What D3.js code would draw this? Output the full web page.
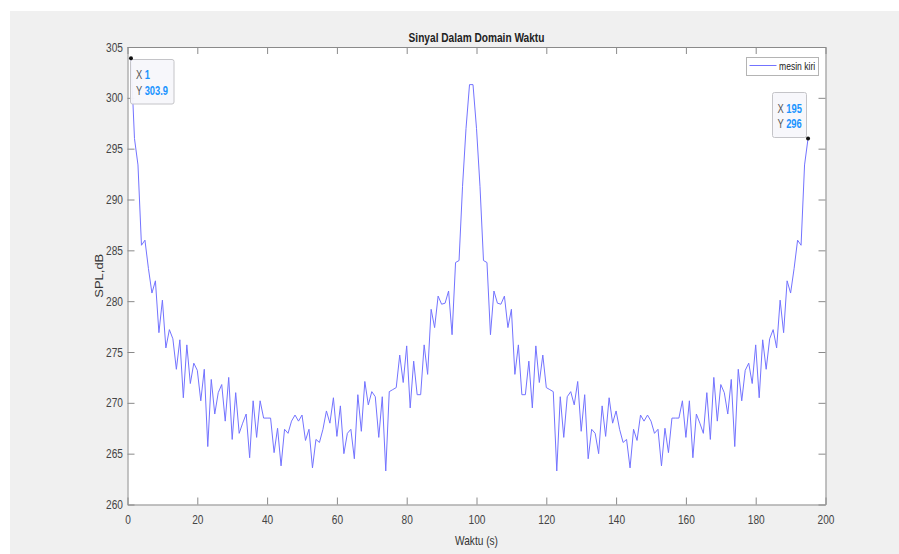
<!DOCTYPE html>
<html>
<head>
<meta charset="utf-8">
<script src="https://cdn.jsdelivr.net/npm/d3@7"></script>
<style>
  body { margin: 0; background: #fff; }
  svg { display: block; }
  text { font-family: "Liberation Sans", Arial, sans-serif; }
</style>
</head>
<body>
<svg id="chart" width="899" height="554"></svg>
<script>
// data
var chartTitle = 'Sinyal Dalam Domain Waktu';
var xLabel = 'Waktu (s)';
var yLabel = 'SPL,dB';
var seriesName = 'mesin kiri';

// sample index 1..195
var waktu = d3.range(1, 196);
var spl = [
  303.9, 296.0, 293.4, 285.5, 286.0, 283.2, 280.8, 282.0, 276.9, 280.1,
  275.4, 277.2, 276.3, 273.3, 276.2, 270.5, 275.7, 271.9, 273.9, 273.2,
  270.2, 273.3, 265.7, 272.3, 268.9, 271.0, 271.8, 268.2, 272.5, 266.4,
  271.0, 267.0, 268.0, 268.9, 264.6, 270.2, 266.6, 270.2, 268.5, 268.5,
  268.5, 265.1, 267.5, 263.8, 267.4, 267.0, 268.2, 268.8, 268.2, 268.8,
  266.3, 267.4, 263.6, 266.4, 266.1, 267.4, 269.2, 268.0, 270.5, 266.7,
  269.7, 265.0, 267.0, 267.4, 264.5, 270.8, 267.2, 272.1, 269.8, 271.1,
  270.6, 266.6, 270.6, 263.3, 271.1, 271.3, 271.5, 274.7, 272.0, 275.6,
  269.5, 274.1, 270.8, 270.8, 275.7, 272.8, 279.2, 277.4, 280.5, 279.7,
  279.8, 281.0, 276.7, 283.8, 284.0, 291.3, 297.0, 301.3,
  301.3, 297.0, 291.3, 284.0, 283.8, 276.7, 281.0, 279.8, 279.7, 280.5,
  277.4, 279.2, 272.8, 275.7, 270.8, 270.8, 274.1, 269.5, 275.6, 272.0,
  274.7, 271.5, 271.3, 271.1, 263.3, 270.6, 266.6, 270.6, 271.1, 269.8,
  272.1, 267.2, 270.8, 264.5, 267.4, 267.0, 265.0, 269.7, 266.7, 270.5,
  268.0, 269.2, 267.4, 266.1, 266.4, 263.6, 267.4, 266.3, 268.8, 268.2,
  268.8, 268.2, 267.0, 267.4, 263.8, 267.5, 265.1, 268.5, 268.5, 268.5,
  270.2, 266.6, 270.2, 264.6, 268.9, 268.0, 267.0, 271.0, 266.4, 272.5,
  268.2, 271.8, 271.0, 268.9, 272.3, 265.7, 273.3, 270.2, 273.2, 273.9,
  271.9, 275.7, 270.5, 276.2, 273.3, 276.3, 277.2, 275.4, 280.1, 276.9,
  282.0, 280.8, 283.2, 286.0, 285.5, 293.4, 296.0
];
var xTicks = [0, 20, 40, 60, 80, 100, 120, 140, 160, 180, 200];
var yTicks = [260, 265, 270, 275, 280, 285, 290, 295, 300, 305];
// data tips: [x, y]
var tips = [[1, 303.9], [195, 296]];

var svg = d3.select('#chart');
var SX = 0.78; // text in the picture is squeezed sideways
var pLeft = 127.5, pRight = 825.5, pTop = 47, pBottom = 504.5;

var x = d3.scaleLinear().domain([0, 200]).range([pLeft, pRight]);
var y = d3.scaleLinear().domain([260, 305]).range([pBottom, pTop]);

// figure background
svg.append('rect').attr('x', 10).attr('y', 11).attr('width', 889).attr('height', 543)
    .attr('fill', '#f0f0f0');
svg.append('rect').attr('x', pLeft).attr('y', pTop)
    .attr('width', pRight - pLeft).attr('height', pBottom - pTop)
    .attr('fill', '#fff');

function squeeze(sel) {
    sel.each(function() {
        var t = d3.select(this);
        var tx = +t.attr('x') || 0;
        t.attr('x', tx / SX).attr('transform', 'scale(' + SX + ',1)');
    });
}

function styleAxis(g) {
    g.selectAll('path').attr('stroke', '#8a8a8a');
    g.selectAll('line').attr('stroke', '#8a8a8a');
    g.selectAll('text').attr('fill', '#444').style('font-size', '13px')
        .style('font-family', '"Liberation Sans", Arial, sans-serif');
}

var gx = svg.append('g').attr('transform', 'translate(0,' + pBottom + ')')
    .call(d3.axisBottom(x).tickValues(xTicks).tickSizeInner(-7).tickSizeOuter(0).tickPadding(10));
styleAxis(gx);
gx.selectAll('text').call(squeeze);

var gy = svg.append('g').attr('transform', 'translate(' + pLeft + ',0)')
    .call(d3.axisLeft(y).tickValues(yTicks).tickSizeInner(-7).tickSizeOuter(0).tickPadding(4.5));
styleAxis(gy);
gy.selectAll('text').call(squeeze);

var gt = svg.append('g').attr('transform', 'translate(0,' + pTop + ')')
    .call(d3.axisTop(x).tickValues(xTicks).tickSizeInner(-7).tickSizeOuter(0).tickFormat(''));
styleAxis(gt);
var gr = svg.append('g').attr('transform', 'translate(' + pRight + ',0)')
    .call(d3.axisRight(y).tickValues(yTicks).tickSizeInner(-7).tickSizeOuter(0).tickFormat(''));
styleAxis(gr);

// series
var line = d3.line()
    .x(function(d, i) { return x(waktu[i]); })
    .y(function(d) { return y(d); });
svg.append('path').datum(spl)
    .attr('d', line)
    .attr('fill', 'none')
    .attr('stroke', '#7373ff')
    .attr('stroke-width', 1);

// squeezed text helper
function label(px, py, str, size, opts) {
    opts = opts || {};
    var t = svg.append('text')
        .attr('transform', 'translate(' + px + ',' + py + ') scale(' + SX + ',1)' + (opts.rotate ? ' rotate(' + opts.rotate + ')' : ''))
        .attr('text-anchor', opts.anchor || 'start')
        .attr('fill', opts.fill || '#333')
        .style('font-size', size + 'px')
        .style('font-weight', opts.bold ? 'bold' : 'normal')
        .text(str);
    return t;
}

label((pLeft + pRight) / 2, 41.5, chartTitle, 13, {anchor: 'middle', bold: true, fill: '#222'});
label((pLeft + pRight) / 2, 545, xLabel, 13, {anchor: 'middle', fill: '#333'});
label(103, (pTop + pBottom) / 2, yLabel, 13, {anchor: 'middle', rotate: -90, fill: '#333'});

// legend
svg.append('rect').attr('x', 746.5).attr('y', 57.5).attr('width', 72).attr('height', 18)
    .attr('fill', '#fff').attr('stroke', '#b4b4b4').attr('stroke-width', 1);
svg.append('line').attr('x1', 749.5).attr('x2', 776.5).attr('y1', 65.5).attr('y2', 65.5)
    .attr('stroke', '#7373ff').attr('stroke-width', 1);
label(779, 70, seriesName, 11, {fill: '#222'});

// data tips
var tipBoxes = [
    {bx: 130.5, by: 59.5, bw: 43.5, bh: 44.5, tx: 136, ty1: 78.5, ty2: 94.5},
    {bx: 772.5, by: 92.5, bw: 34, bh: 45, tx: 777.5, ty1: 112.5, ty2: 127.5}
];
tips.forEach(function(d, i) {
    var b = tipBoxes[i];
    svg.append('rect').attr('x', b.bx).attr('y', b.by).attr('width', b.bw).attr('height', b.bh)
        .attr('rx', 2).attr('fill', '#f7f7fb').attr('fill-opacity', 0.95)
        .attr('stroke', '#c4c4c8').attr('stroke-width', 1);
    var t1 = label(b.tx, b.ty1, '', 12, {fill: '#555'});
    t1.append('tspan').text('X ');
    t1.append('tspan').attr('fill', '#1a94ff').style('font-weight', 'bold').text(d[0]);
    var t2 = label(b.tx, b.ty2, '', 12, {fill: '#555'});
    t2.append('tspan').text('Y ');
    t2.append('tspan').attr('fill', '#1a94ff').style('font-weight', 'bold').text(d[1]);
    svg.append('circle').attr('cx', x(d[0])).attr('cy', y(d[1])).attr('r', 2)
        .attr('fill', '#111');
});
</script>
</body>
</html>
